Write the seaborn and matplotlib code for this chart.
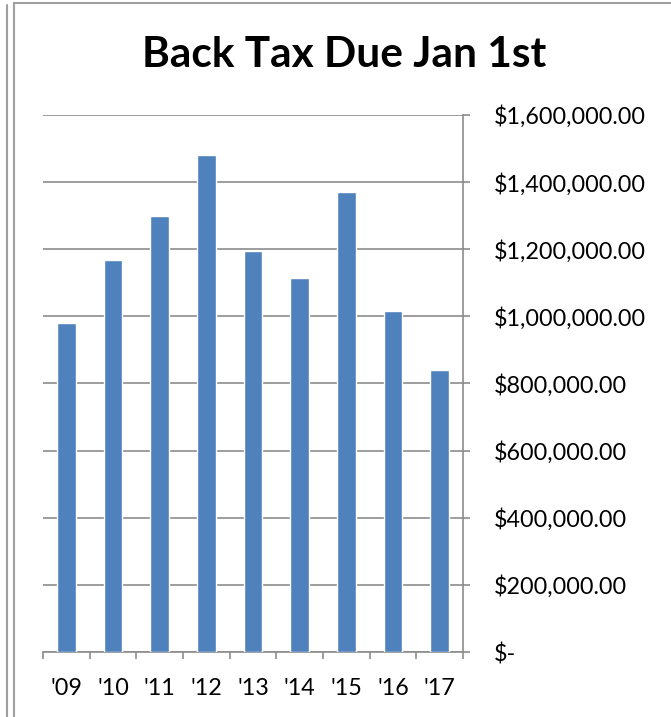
import matplotlib
matplotlib.use("Agg")
import matplotlib.pyplot as plt
from matplotlib.lines import Line2D
from matplotlib.ticker import FixedLocator
import seaborn as sns
import pandas as pd

years = ["'09", "'10", "'11", "'12", "'13", "'14", "'15", "'16", "'17"]
back_tax = [980000, 1168000, 1299000, 1481000, 1195000, 1114000, 1371000, 1016000, 840000]
y_ticks = [0, 200000, 400000, 600000, 800000, 1000000, 1200000, 1400000, 1600000]
y_labels = ["$-", "$200,000.00", "$400,000.00", "$600,000.00", "$800,000.00",
            "$1,000,000.00", "$1,200,000.00", "$1,400,000.00", "$1,600,000.00"]

sns.set_theme(style="white")
plt.rcParams['font.family'] = ['Lato', 'DejaVu Sans']

W, H = 671, 717
fig = plt.figure(figsize=(W / 100, H / 100), dpi=100)
ax = fig.add_axes([43 / W, (H - 652) / H, (463 - 43) / W, (652 - 115) / H])

df = pd.DataFrame({"year": years, "tax": back_tax})
sns.barplot(data=df, x="year", y="tax", color="#4F81BD", saturation=1, width=0.4,
            ax=ax, zorder=3)

grid_c = "#8C8C8C"
ax.set_ylim(0, 1600000)
ax.set_xlim(-0.5, len(years) - 0.5)
ax.yaxis.tick_right()
ax.set_yticks(y_ticks)
ax.set_yticklabels(y_labels)
ax.yaxis.grid(True, color=grid_c, linewidth=1.2, zorder=0)
ax.set_axisbelow(True)
ax.tick_params(axis="y", which="major", right=True, left=False, length=5, width=1.2,
               color=grid_c, pad=17, labelsize=16.8, labelcolor="black")
ax.tick_params(axis="x", which="major", bottom=False, length=0, pad=19,
               labelsize=16.8, labelcolor="black")
ax.xaxis.set_minor_locator(FixedLocator([i - 0.5 for i in range(len(years) + 1)]))
ax.tick_params(axis="x", which="minor", bottom=True, length=5, width=1.2, color=grid_c)
for s in ["left", "top"]:
    ax.spines[s].set_visible(False)
for s in ["right", "bottom"]:
    ax.spines[s].set_color(grid_c)
    ax.spines[s].set_linewidth(1.2)
ax.set_xlabel("")
ax.set_ylabel("")

fig.text(344 / W, 1 - 55 / H, "Back Tax Due Jan 1st", ha="center", va="center",
         fontsize=30.5, fontweight="bold", color="black")

frame_c = "#A0A0A0"
fig.add_artist(Line2D([7 / W, 7 / W], [1 - 5 / H, 0], color=frame_c, lw=1.5,
                      transform=fig.transFigure))
fig.add_artist(Line2D([13.5 / W, 13.5 / W], [1 - 3 / H, 0], color=frame_c, lw=1.5,
                      transform=fig.transFigure))
fig.add_artist(Line2D([13.5 / W, 1], [1 - 3 / H, 1 - 3 / H], color=frame_c, lw=1.5,
                      transform=fig.transFigure))

fig.savefig("out.png", dpi=100)
